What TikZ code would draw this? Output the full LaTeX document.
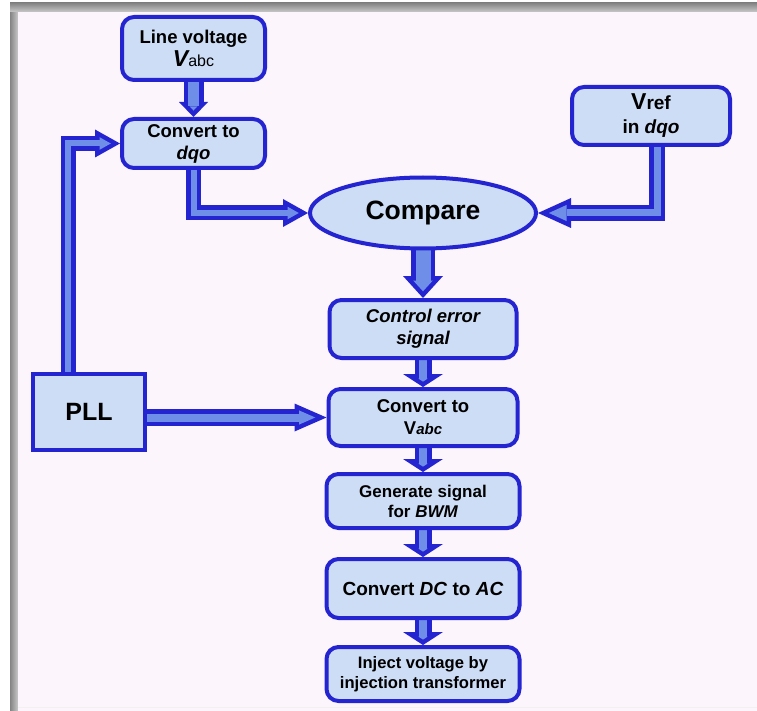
\documentclass[tikz,border=0pt]{standalone}
\usepackage{fontspec}
\setmainfont{Liberation Sans}
\usetikzlibrary{arrows.meta,shapes.geometric,backgrounds}

\definecolor{edgeblue}{RGB}{36,36,208}
\definecolor{coreblue}{RGB}{110,142,232}
\definecolor{boxfill}{RGB}{205,221,245}
\definecolor{paper}{RGB}{252,245,252}
\definecolor{rim}{RGB}{165,165,165}

\tikzstyle{block} = [draw=edgeblue, fill=boxfill, line width=4pt, rounded corners=12pt, align=center, text=black, inner sep=0pt]
\tikzstyle{plain block} = [block, rounded corners=0pt]
\tikzstyle{judge} = [block, ellipse]
\tikzset{
  pipe/.style n args={3}{draw=edgeblue, line width=#1, line join=miter,
    -{Triangle[length=#3, width=#2, line width=0pt]}},
}
\newcommand{\fsz}[2]{\bfseries\fontsize{#1}{#2}\selectfont}
\newcommand{\rimw}{4.5}
% #1 shaft, #2 head width, #3 head length, #4 path
\newcommand{\flowarrow}[4]{%
  \pgfmathsetmacro{\headang}{atan((#2/2)/#3)}%
  \pgfmathsetmacro{\cshaft}{#1-2*\rimw}%
  \pgfmathsetmacro{\cback}{\rimw/sin(\headang)}%
  \pgfmathsetmacro{\clen}{#3-\cback-\rimw}%
  \pgfmathsetmacro{\cwid}{2*((#2/2)*(#3-\rimw)/#3-\rimw/cos(\headang))}%
  \draw[pipe={#1pt}{#2pt}{#3pt}] #4;
  \draw[pipe={\cshaft pt}{\cwid pt}{\clen pt}, draw=coreblue, shorten >=\cback pt] #4;
}

\begin{document}
\begin{tikzpicture}[x=1pt, y=-1pt]
    \useasboundingbox (0,0) rectangle (757,711);
    % First the blocks
    \node[block, minimum width=143pt, minimum height=63pt, font=\fsz{18.5}{23}] (lv) at (193.5,48.5)
        {Line voltage\\ {\fontsize{23}{23}\selectfont\itshape V}{\fontsize{16}{23}\selectfont\mdseries abc}};
    \node[block, minimum width=143pt, minimum height=49pt, font=\fsz{18.5}{22}] (dqo) at (193.5,143.5)
        {Convert to\\ \textit{dqo}};
    \node[block, minimum width=158pt, minimum height=58pt, font=\fsz{19}{24}] (vref) at (651,116)
        {{\fontsize{23}{24}\selectfont V}ref\\ in \textit{dqo}};
    \node[judge, minimum width=226pt, minimum height=71pt, font=\fsz{26.5}{30}] (cmp) at (423,213)
        {Compare};
    \node[block, minimum width=187pt, minimum height=58pt, font=\fsz{18.5}{22}\itshape] (ctrl) at (423,329)
        {Control error\\ signal};
    \node[block, minimum width=189pt, minimum height=57pt, font=\fsz{18.5}{22}] (vabc) at (423,417.5)
        {Convert to\\ V{\fontsize{15}{22}\selectfont\itshape abc}};
    \node[plain block, minimum width=112pt, minimum height=76pt, font=\fsz{25}{30}] (pll) at (89,412)
        {PLL};
    \node[block, minimum width=193pt, minimum height=54pt, font=\fsz{17}{20}] (gen) at (423,501)
        {Generate signal\\ for \textit{BWM}};
    \node[block, minimum width=193pt, minimum height=59pt, font=\fsz{19}{22}] (dcac) at (423,588.5)
        {Convert \textit{DC} to \textit{AC}};
    \node[block, minimum width=193pt, minimum height=54pt, font=\fsz{16.6}{20}] (inj) at (423,674)
        {Inject voltage by\\ injection transformer};

    \begin{pgfonlayer}{background}
        % page and screenshot rim
        \fill[white] (0,0) rectangle (757,711);
        \shade[left color=rim!80!black, right color=rim!60] (10,3) rectangle (18,711);
        \shade[top color=rim!80!black, bottom color=rim!60] (10,3) rectangle (757,12);
        \fill[paper] (18,12) rectangle (757,711);
        \draw[white!85!rim] (18,707) -- (757,707);
        % Then the arrows between blocks
        \flowarrow{20}{29}{15}{(lv.south) -- (dqo.north)}
        \flowarrow{15}{28}{25}{(dqo.south) |- (cmp.west)}
        \flowarrow{16}{30}{33}{([xshift=6pt]vref.south) |- (cmp.east)}
        \flowarrow{15}{28}{25}{([xshift=-21pt]pll.north) |- (dqo.west)}
        \flowarrow{17}{28}{32}{([yshift=-5.5pt]pll.east) -- (vabc.west)}
        \flowarrow{24}{40}{22}{(cmp.south) -- (ctrl.north)}
        \foreach \src/\dst in {ctrl/vabc, vabc/gen, gen/dcac, dcac/inj}
            {\flowarrow{17}{40}{13}{(\src.south) -- (\dst.north)}}
    \end{pgfonlayer}
\end{tikzpicture}
\end{document}
